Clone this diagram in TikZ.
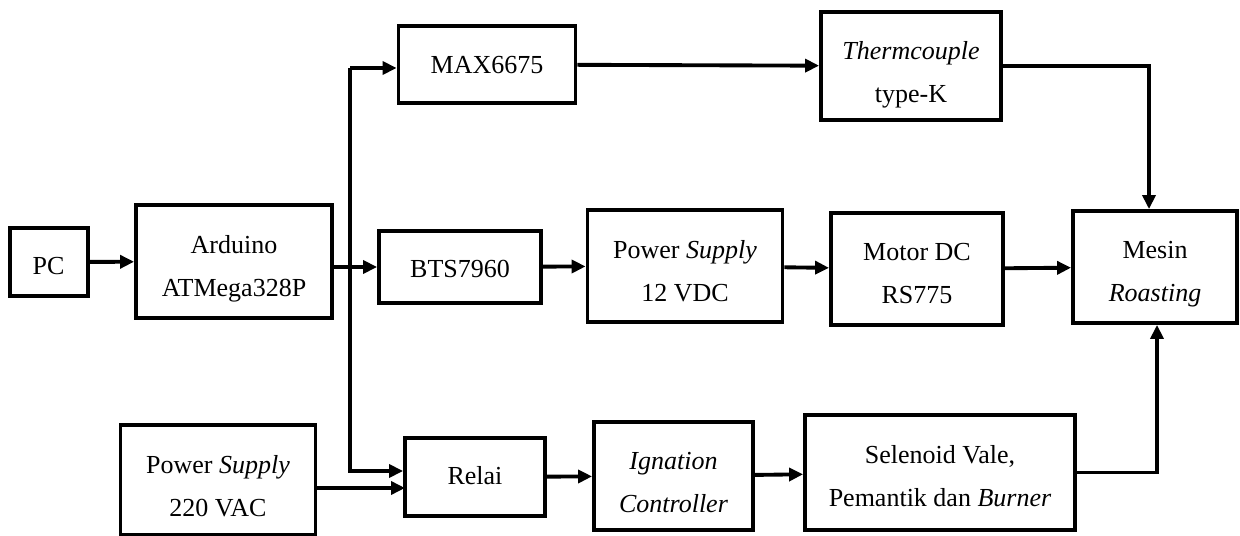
\documentclass[tikz,border=0pt]{standalone}
\usepackage{fontspec}
\setmainfont{Liberation Serif}
\usetikzlibrary{arrows.meta, calc, positioning}
\tikzset{
  % kotak blok
  blok/.style={draw=black, line width=2.2pt, inner xsep=2pt, inner ysep=0pt,
    align=center, font=\fontsize{14.8}{25}\selectfont},
  % tinggi kotak di atas / di bawah garis dasar baris terakhir
  tb/.style 2 args={text height=#1, text depth=#2},
  % panah sinyal
  sig/.style={-{Triangle[length=2.8mm, width=2.6mm]}, line width=2.2pt},
}
\begin{document}
\begin{tikzpicture}[x=0.02cm, y=-0.02cm]
  \useasboundingbox (0,0) rectangle (1240,536);
  % baris tengah
  \node[blok, minimum width=1.56cm, tb={0.93cm}{0.43cm}] (pc) at (48.6,262) {PC};
  \node[blok, minimum width=3.92cm, tb={1.84cm}{0.42cm}] (ard) at (234,261.5) {Arduino\\ATMega328P};
  \node[blok, minimum width=3.24cm, tb={0.94cm}{0.5cm}] (bts) at (460,267) {BTS7960};
  \node[blok, minimum width=3.9cm, tb={1.84cm}{0.4cm}] (ps12) at (685,266) {Power \textit{Supply}\\12 VDC};
  \node[blok, minimum width=3.44cm, tb={1.82cm}{0.42cm}] (motor) at (917,269) {Motor DC\\RS775};
  \node[blok, minimum width=3.28cm, tb={1.82cm}{0.42cm}] (mesin) at (1155,267) {Mesin\\\textit{Roasting}};
  % baris atas
  \node[blok, minimum width=3.54cm, tb={0.96cm}{0.58cm}] (max) at (487,64.5) {MAX6675};
  \node[blok, minimum width=3.6cm, tb={1.82cm}{0.34cm}] (thermo) at (911,66) {\textit{Thermcouple}\\type-K};
  % baris bawah
  \node[blok, minimum width=3.9cm, tb={1.84cm}{0.36cm}] (ps220) at (218,480) {Power \textit{Supply}\\220 VAC};
  \node[blok, minimum width=2.8cm, tb={0.94cm}{0.62cm}] (relai) at (475,477) {Relai};
  \node[blok, minimum width=3.18cm, tb={1.82cm}{0.34cm}] (ign) at (673.5,476) {\textit{Ignation}\\\textit{Controller}};
  \node[blok, minimum width=5.4cm, tb={1.84cm}{0.46cm}] (selen) at (940,472.5) {Selenoid Vale,\\Pemantik dan \textit{Burner}};
  % titik cabang
  \coordinate (busT) at (350,68);
  \coordinate (busB) at (350,471);
  \coordinate (acin) at (405,488);
  % panah
  \draw[sig] (pc) -- (ard);
  \draw[sig] (ard.east |- bts.west) -- (bts.west);
  \draw[sig] (busT) -- (busT -| max.west);
  \draw[sig] (busT) -- (busB) -- (busB -| relai.west);
  \draw[sig] (ps220.east |- acin) -- (acin);
  \draw[sig] (bts) -- (ps12);
  \draw[sig] (ps12) -- (motor);
  \draw[sig] (motor) -- (mesin);
  \draw[sig] (max) -- (thermo);
  \draw[sig] (thermo.east) -| ([xshift=-0.12cm]mesin.north);
  \draw[sig] (relai) -- (ign);
  \draw[sig] (ign) -- (selen);
  \draw[sig] (selen.east) -| ([xshift=0.04cm]mesin.south);
\end{tikzpicture}
\end{document}
